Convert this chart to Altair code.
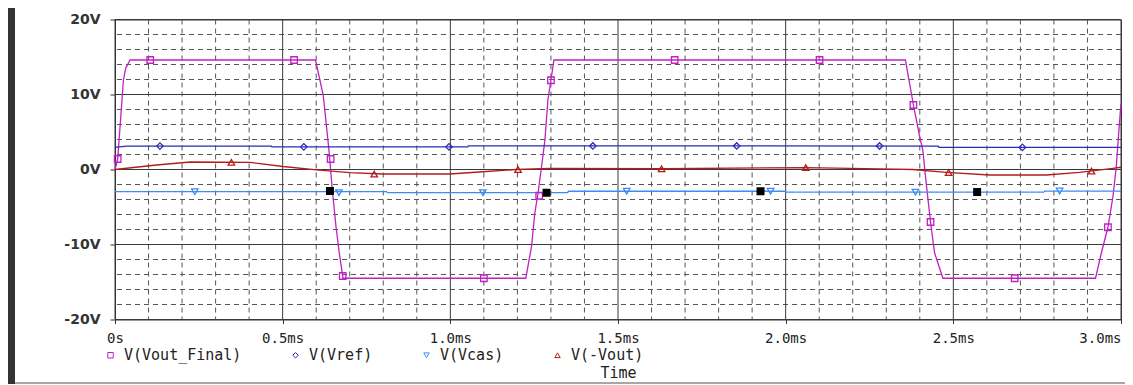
import altair as alt
import pandas as pd

# ---------------- data (time in ms, voltage in V) ----------------
vfinal_t = [0, 0.008, 0.018, 0.025, 0.032, 0.045, 0.598, 0.621, 0.638, 0.648, 0.659, 0.669, 0.680,
            1.225, 1.242, 1.252, 1.262, 1.272, 1.282, 1.291, 1.300, 1.309,
            2.357, 2.381, 2.399, 2.409, 2.419, 2.432, 2.444, 2.469,
            2.924, 2.941, 2.961, 2.976, 2.986, 2.993, 3.000]
vfinal_v = [0, 1.4, 7.5, 11.9, 13.5, 14.6, 14.6, 9.9, 2.6, -2.7, -7.6, -11.2, -14.5,
            -14.5, -10.3, -5.8, -3.0, 0.4, 3.9, 9.3, 11.9, 14.6,
            14.6, 8.6, 4.5, 2.6, -1.8, -7.0, -11.1, -14.5,
            -14.5, -11.2, -7.7, -3.6, 0.4, 4.8, 8.8]
vfinal_mt = [0.008, 0.105, 0.534, 0.643, 0.679, 1.100, 1.265, 1.300, 1.669, 2.101, 2.381, 2.432, 2.683, 2.961]
vfinal_mv = [1.4, 14.6, 14.6, 1.4, -14.2, -14.5, -3.5, 11.9, 14.6, 14.6, 8.6, -7.0, -14.5, -7.7]

vref_t = [0, 0.035, 0.466, 0.468, 1.052, 1.054, 2.455, 2.457, 3.0]
vref_v = [2.96, 3.12, 3.12, 3.02, 3.02, 3.15, 3.13, 2.95, 2.95]
vref_mt = [0.134, 0.563, 0.996, 1.425, 1.854, 2.280, 2.706]
vref_mv = [3.12, 3.02, 3.02, 3.14, 3.14, 3.13, 2.95]

vcas_t = [0, 0.81, 0.812, 1.350, 1.352, 2.0, 2.002, 2.77, 2.772, 3.0]
vcas_v = [-2.96, -2.96, -3.08, -3.08, -2.9, -2.9, -3.02, -3.02, -2.87, -2.87]
vcas_mt = [0.238, 0.668, 1.097, 1.526, 1.955, 2.387, 2.817]
vcas_mv = [-2.96, -3.08, -3.08, -2.9, -2.9, -3.02, -2.87]

vneg_t = [0, 0.124, 0.224, 0.402, 0.501, 0.601, 0.700, 0.799, 0.998, 1.097, 1.197, 1.297,
          1.630, 2.060, 2.280, 2.379, 2.479, 2.608, 2.778, 2.876, 2.976, 3.0]
vneg_v = [0, 0.6, 1.0, 0.95, 0.4, -0.05, -0.43, -0.6, -0.6, -0.3, 0.0, 0.15,
          0.1, 0.25, 0.07, 0.0, -0.37, -0.73, -0.73, -0.37, 0.16, 0.3]
vneg_mt = [0.347, 0.773, 1.202, 1.630, 2.060, 2.486, 2.912]
vneg_mv = [0.95, -0.6, 0.0, 0.1, 0.25, -0.4, -0.2]

mark_t = [0.641, 1.287, 1.925, 2.571]
mark_v = [-2.87, -3.1, -2.9, -3.0]

series = ["V(Vout_Final)", "V(Vref)", "V(Vcas)", "V(-Vout)"]
colors = ["#c020c4", "#2c2cb4", "#3c8cf4", "#b41c1c"]
shapes = ["square", "diamond", "triangle-down", "triangle-up"]

major_x = [0, 0.5, 1.0, 1.5, 2.0, 2.5, 3.0]
minor_x = [round(i * 0.1, 1) for i in range(1, 30) if i % 5]
major_y = [-20, -10, 0, 10, 20]
minor_y = [v for v in range(-18, 20, 2) if v % 10]


def frame(i, t, v):
    return pd.DataFrame({"t": t, "v": v, "s": series[i], "c": colors[i]})


lines_df = pd.concat([frame(0, vfinal_t, vfinal_v), frame(1, vref_t, vref_v),
                      frame(2, vcas_t, vcas_v), frame(3, vneg_t, vneg_v)])
marks_df = pd.concat([frame(0, vfinal_mt, vfinal_mv), frame(1, vref_mt, vref_mv),
                      frame(2, vcas_mt, vcas_mv), frame(3, vneg_mt, vneg_mv)])
black_df = pd.DataFrame({"t": mark_t, "v": mark_v})

xs = alt.Scale(domain=[0, 3.0], nice=False, zero=False)
ys = alt.Scale(domain=[-20, 20], nice=False, zero=False)

x_axis = alt.Axis(values=major_x, grid=False, tickSize=4, tickColor="#333", domain=False,
                  labelExpr="datum.value == 0 ? '0s' : format(datum.value, '.1f') + 'ms'",
                  labelFont="DejaVu Sans Mono", labelFontSize=14, labelColor="#222",
                  labelPadding=8, labelAlign={"condition": {"test": "datum.value >= 2.99", "value": "right"}, "value": "center"},
                  titleFont="DejaVu Sans Mono", titleFontSize=15, titleFontWeight="normal",
                  titleColor="#222", titlePadding=20)
y_axis = alt.Axis(values=major_y, grid=False, tickSize=5, tickColor="#333", domain=False,
                  labelExpr="datum.value + 'V'", labelFont="DejaVu Sans", labelFontWeight="bold",
                  labelFontSize=14, labelColor="#333", labelPadding=10)


def X(field="t:Q"):
    return alt.X(field, scale=xs, axis=x_axis, title="Time")


def Y(field="v:Q"):
    return alt.Y(field, scale=ys, axis=y_axis, title=None)


gx_minor = alt.Chart(pd.DataFrame({"t": minor_x})).mark_rule(
    color="#555", strokeWidth=1, strokeDash=[5, 4]).encode(x=X())
gy_minor = alt.Chart(pd.DataFrame({"v": minor_y})).mark_rule(
    color="#555", strokeWidth=1, strokeDash=[5, 4]).encode(y=Y())
gx_major = alt.Chart(pd.DataFrame({"t": major_x})).mark_rule(
    color="#3a3a3a", strokeWidth=1).encode(x=X())
gy_major = alt.Chart(pd.DataFrame({"v": major_y})).mark_rule(
    color="#3a3a3a", strokeWidth=1).encode(y=Y())

legend = alt.Legend(orient="none", legendX=-12, legendY=328, direction="horizontal",
                    columns=4, columnPadding=46, labelFont="DejaVu Sans Mono",
                    labelFontSize=15, labelColor="#222", labelOffset=6,
                    symbolSize=30, symbolStrokeWidth=1, labelLimit=400)
color_enc = alt.Color("s:N", scale=alt.Scale(domain=series, range=colors), title=None, legend=legend)
shape_enc = alt.Shape("s:N", scale=alt.Scale(domain=series, range=shapes), title=None, legend=legend)

lines = alt.Chart(lines_df).mark_line(strokeWidth=1.3, interpolate="linear").encode(
    x=X(), y=Y(), detail="s:N", color=alt.Color("c:N", scale=None))
points = alt.Chart(marks_df).mark_point(filled=False, size=42, strokeWidth=1.3, opacity=1).encode(
    x=X(), y=Y(), color=color_enc, shape=shape_enc)
blacks = alt.Chart(black_df).mark_point(shape="square", filled=True, color="black", size=64, opacity=1).encode(
    x=X(), y=Y())

left_band = alt.Chart(pd.DataFrame({"a": [0]})).mark_rect(color="#333").encode(
    x=alt.value(-107), x2=alt.value(-100), y=alt.value(-12), y2=alt.value(366))
bottom_line = alt.Chart(pd.DataFrame({"a": [0]})).mark_rule(color="#8a8a8a", strokeWidth=1.5).encode(
    x=alt.value(-100), x2=alt.value(1010), y=alt.value(363.5))

chart = alt.layer(gx_minor, gy_minor, gx_major, gy_major, lines, points, blacks, left_band, bottom_line).properties(
    width=1006, height=300, autosize="none",
    padding={"left": 107, "top": 11.5, "right": 4, "bottom": 64.5},
    background="white",
).configure_view(stroke="#333", strokeWidth=1)

chart.save("out.html", embed_options={"renderer": "svg", "actions": False})
